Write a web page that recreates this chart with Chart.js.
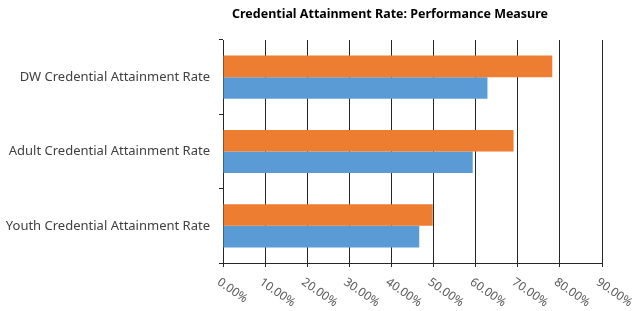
<!DOCTYPE html>
<html>
<head>
<meta charset="utf-8">
<script src="https://cdn.jsdelivr.net/npm/chart.js@4/dist/chart.umd.min.js"></script>
<style>
  html, body { margin: 0; padding: 0; background: #fff; }
  #wrap { width: 641px; height: 311px; position: relative; }
</style>
</head>
<body>
<div id="wrap"><canvas id="c" width="641" height="311"></canvas></div>
<script>
const chartTitle = 'Credential Attainment Rate: Performance Measure';
const categories = ['DW Credential Attainment Rate', 'Adult Credential Attainment Rate', 'Youth Credential Attainment Rate'];
const orangeValues = [78.2, 69.0, 49.8];
const blueValues = [62.8, 59.3, 46.6];
const xTickValues = [0, 10, 20, 30, 40, 50, 60, 70, 80, 90];
const xTickLabels = ['0.00%', '10.00%', '20.00%', '30.00%', '40.00%', '50.00%', '60.00%', '70.00%', '80.00%', '90.00%'];

const FONT = '"Noto Sans", "Open Sans", sans-serif';
const LINE = '#262626';

const titlePlugin = {
  id: 'customTitle',
  afterDraw(chart) {
    const ctx = chart.ctx;
    ctx.save();
    ctx.font = 'bold 13px ' + FONT;
    ctx.fillStyle = '#000';
    ctx.textAlign = 'center';
    ctx.textBaseline = 'middle';
    ctx.fillText(chartTitle, 390, 14, 316);
    ctx.restore();
  }
};

const xLabelPlugin = {
  id: 'rotatedXLabels',
  afterDraw(chart) {
    const xs = chart.scales.x;
    const ctx = chart.ctx;
    ctx.save();
    ctx.font = '12px ' + FONT;
    ctx.fillStyle = '#595959';
    ctx.textAlign = 'left';
    ctx.textBaseline = 'top';
    xTickValues.forEach((v, i) => {
      const px = xs.getPixelForValue(v);
      ctx.save();
      ctx.translate(px - 1, xs.top + 13);
      ctx.rotate(35 * Math.PI / 180);
      ctx.fillText(xTickLabels[i], 0, 0);
      ctx.restore();
    });
    ctx.restore();
  }
};

new Chart(document.getElementById('c'), {
  type: 'bar',
  data: {
    labels: categories,
    datasets: [
      { label: 'Series 2', data: orangeValues, backgroundColor: '#ED7D31', borderWidth: 0 },
      { label: 'Series 1', data: blueValues, backgroundColor: '#5B9BD5', borderWidth: 0 }
    ]
  },
  options: {
    indexAxis: 'y',
    responsive: false,
    animation: false,
    devicePixelRatio: 1,
    categoryPercentage: 0.58,
    barPercentage: 1,
    layout: { padding: { top: 40, right: 39, left: 0, bottom: 0 } },
    plugins: {
      legend: { display: false },
      title: { display: false },
      tooltip: { enabled: false }
    },
    scales: {
      x: {
        min: 0,
        max: 90,
        ticks: { stepSize: 10, display: false },
        grid: { color: LINE, lineWidth: 1, tickLength: 4, drawTicks: true },
        border: { display: true, color: LINE, width: 1 },
        afterFit(scale) { scale.height = 48; }
      },
      y: {
        ticks: { color: '#404040', font: { family: FONT, size: 13 }, padding: 9 },
        grid: { drawOnChartArea: false, color: LINE, tickLength: 4 },
        border: { display: true, color: LINE, width: 1 },
        afterFit(scale) { scale.width = 223; }
      }
    }
  },
  plugins: [titlePlugin, xLabelPlugin]
});
</script>
</body>
</html>
